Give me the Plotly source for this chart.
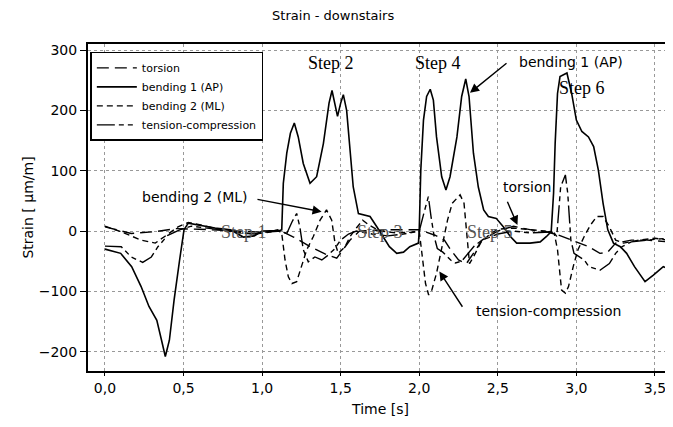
import plotly.graph_objects as go

# ---- data ----
t_bend1 = [0.00, 0.10, 0.17, 0.23, 0.28, 0.33, 0.36, 0.384, 0.41, 0.44, 0.475, 0.503, 0.53, 0.60, 0.70, 0.80,
           0.88, 0.95, 1.00, 1.11, 1.125, 1.135, 1.157, 1.18, 1.205, 1.23, 1.262, 1.305, 1.347, 1.39, 1.426,
           1.445, 1.464, 1.48, 1.50, 1.517, 1.538, 1.56, 1.58, 1.613, 1.644, 1.687, 1.73, 1.77, 1.81, 1.857,
           1.90, 1.94, 1.995, 2.00, 2.01, 2.027, 2.047, 2.07, 2.09, 2.11, 2.143, 2.17, 2.196, 2.24, 2.27,
           2.296, 2.317, 2.345, 2.376, 2.41, 2.44, 2.49, 2.535, 2.58, 2.62, 2.705, 2.77, 2.81, 2.84, 2.855,
           2.865, 2.88, 2.896, 2.94, 2.97, 3.00, 3.035, 3.077, 3.11, 3.14, 3.17, 3.20, 3.236, 3.28, 3.32,
           3.37, 3.437, 3.49, 3.553, 3.58]
v_bend1 = [-30, -37, -59, -92, -125, -148, -181, -208, -181, -114, -48, 2, 13, 10, 5, 2,
           -10, -8, 0, 1, 2, 79, 129, 162, 179, 156, 112, 79, 90, 145, 212,
           233, 212, 190, 212, 226, 200, 129, 73, 29, 27, 24, 7, -9, -26, -37,
           -35, -26, -20, 2, 101, 184, 223, 235, 217, 156, 90, 68, 90, 156, 223,
           252, 223, 129, 73, 35, 24, 21, 7, -9, -20, -20, -18, -9, -1, 63,
           145, 228, 256, 262, 228, 184, 165, 156, 140, 101, 46, 2, -20, -26, -37,
           -59, -84, -73, -59, -62]

t_bend2 = [0.00, 0.10, 0.23, 0.32, 0.38, 0.465, 0.53, 0.61, 0.74, 0.85, 0.95, 1.05, 1.10, 1.125, 1.146,
           1.167, 1.19, 1.22, 1.252, 1.284, 1.326, 1.369, 1.41, 1.443, 1.464, 1.485, 1.528, 1.56, 1.60,
           1.64, 1.68, 1.75, 1.85, 1.95, 2.00, 2.02, 2.04, 2.06, 2.08, 2.11, 2.15, 2.18, 2.21, 2.26, 2.285,
           2.30, 2.31, 2.32, 2.345, 2.39, 2.45, 2.50, 2.60, 2.70, 2.80, 2.86, 2.88, 2.895, 2.906, 2.93,
           2.95, 2.98, 3.01, 3.05, 3.09, 3.13, 3.17, 3.21, 3.25, 3.30, 3.40, 3.50, 3.58]
v_bend2 = [8, -1, -15, -20, -9, 7, 14, 10, 2, -3, -5, 0, 2, -4, -48,
           -76, -87, -84, -59, -31, -9, 18, 35, 18, -20, -37, -26, -9, 5,
           18, 10, 0, -3, -2, 0, -43, -87, -106, -98, -70, -20, 18, 46, 60, 46,
           7, -31, -54, -43, -20, -5, 3, 5, 2, 0, -5, -31, -70, -98, -103,
           -92, -59, -31, -9, 10, 24, 24, 7, -15, -20, -15, -12, -15]

t_tens = [0.00, 0.104, 0.167, 0.24, 0.295, 0.337, 0.40, 0.486, 0.55, 0.65, 0.80, 0.95, 1.10, 1.157, 1.19,
          1.22, 1.24, 1.262, 1.294, 1.336, 1.38, 1.42, 1.46, 1.50, 1.55, 1.60, 1.70, 1.80, 1.90, 2.00,
          2.03, 2.058, 2.075, 2.095, 2.115, 2.15, 2.20, 2.23, 2.27, 2.30, 2.35, 2.40, 2.50, 2.60, 2.70,
          2.80, 2.85, 2.875, 2.887, 2.90, 2.93, 2.945, 2.955, 2.965, 2.985, 3.05, 3.08, 3.15, 3.21, 3.25,
          3.29, 3.35, 3.45, 3.58]
v_tens = [-25, -26, -43, -52, -43, -26, -7, 3, 8, 5, 0, -5, 0, -4, 15,
          29, 7, -31, -51, -43, -48, -40, -30, -15, -5, 0, -5, -8, -5, 0,
          30, 57, 24, -9, -29, -35, -48, -53, -50, -40, -25, -15, -5, 0, -3,
          -2, 0, -9, 29, 73, 93, 63, 24, -15, -37, -48, -59, -65, -54, -37,
          -26, -18, -15, -12]

t_tors = [0.00, 0.167, 0.32, 0.45, 0.60, 0.80, 1.00, 1.12, 1.20, 1.30, 1.40, 1.475, 1.53, 1.56, 1.62,
          1.80, 2.00, 2.05, 2.10, 2.16, 2.20, 2.25, 2.30, 2.35, 2.40, 2.50, 2.60, 2.65, 2.75, 2.85,
          2.92, 3.00, 3.08, 3.15, 3.20, 3.25, 3.35, 3.45, 3.58]
v_tors = [7, -4, -1, 4, 3, 0, -2, 0, -10, -25, -38, -45, -25, -15, 0,
          2, 2, -2, -7, -15, -31, -48, -54, -35, -15, 0, 8, 5, 0, -3,
          -10, -18, -26, -37, -35, -20, -15, -15, -18]

x_tickvals = [0.0, 0.5, 1.0, 1.5, 2.0, 2.5, 3.0, 3.5]
x_ticktext = ["0,0", "0,5", "1,0", "1,5", "2,0", "2,5", "3,0", "3,5"]
y_tickvals = [300, 200, 100, 0, -100, -200]

series_names = ["torsion", "bending 1 (AP)", "bending 2 (ML)", "tension-compression"]

# ---- figure ----
fig = go.Figure()
fig.add_trace(go.Scatter(x=t_tors, y=v_tors, mode="lines", name=series_names[0],
                         line=dict(color="black", width=1.4, dash="12px,6px")))
fig.add_trace(go.Scatter(x=t_bend1, y=v_bend1, mode="lines", name=series_names[1],
                         line=dict(color="black", width=1.6)))
fig.add_trace(go.Scatter(x=t_bend2, y=v_bend2, mode="lines", name=series_names[2],
                         line=dict(color="black", width=1.4, dash="6px,4px")))
fig.add_trace(go.Scatter(x=t_tens, y=v_tens, mode="lines", name=series_names[3],
                         line=dict(color="black", width=1.4, dash="18px,4px,5px,4px,5px,4px")))

serif = dict(family="Liberation Serif", size=18, color="black")
serif_grey = dict(family="Liberation Serif", size=18, color="#555555")
sans = dict(family="DejaVu Sans", size=14, color="black")

step_labels = [("Step 2", 1.438, 278, serif), ("Step 4", 2.12, 278, serif), ("Step 6", 3.036, 237, serif),
               ("Step 1", 0.885, -2, serif_grey), ("Step 3", 1.75, -2, serif_grey), ("Step 5", 2.45, -2, serif_grey)]
for txt, xx, yy, f in step_labels:
    fig.add_annotation(x=xx, y=yy, text=txt, showarrow=False, font=f, xanchor="center", yanchor="middle")

text_labels = [("bending 2 (ML)", 0.573, 56), ("bending 1 (AP)", 2.966, 280),
               ("torsion", 2.686, 73), ("tension-compression", 2.82, -133)]
for txt, xx, yy in text_labels:
    fig.add_annotation(x=xx, y=yy, text=txt, showarrow=False, font=sans, xanchor="center", yanchor="middle")

arrows = [(1.379, 32, 0.961, 53), (2.323, 229, 2.565, 280), (2.625, 10, 2.557, 51), (2.128, -67, 2.281, -128)]
for xt, yt, xs, ys in arrows:
    fig.add_annotation(x=xt, y=yt, ax=xs, ay=ys, axref="x", ayref="y", xref="x", yref="y",
                       text="", showarrow=True, arrowhead=2, arrowsize=1.3, arrowwidth=1.4,
                       arrowcolor="black")

# the page body has an 8px margin, so the figure is sized to fit the window from (8, 8)
fig.update_layout(
    width=665, height=419,
    margin=dict(l=80, r=0, t=36, b=56, autoexpand=False),
    paper_bgcolor="white", plot_bgcolor="white",
    title=dict(text="Strain - downstairs", x=0.489, xanchor="center", y=0.983, yanchor="middle",
               font=dict(family="DejaVu Sans", size=13, color="black")),
    font=dict(family="DejaVu Sans", size=14, color="black"),
    legend=dict(x=0.004, y=0.976, xanchor="left", yanchor="top", bgcolor="white",
                bordercolor="black", borderwidth=1.5, font=dict(family="DejaVu Sans", size=11),
                tracegroupgap=0, itemwidth=40),
    showlegend=True,
)
fig.update_xaxes(range=[-0.108, 3.615], tickvals=x_tickvals, ticktext=x_ticktext, automargin=False,
                 showline=True, linecolor="black", linewidth=2, mirror=True,
                 ticks="outside", ticklen=3, tickcolor="black",
                 showgrid=True, gridcolor="#999999", griddash="dot", gridwidth=1, zeroline=False,
                 title=dict(text="Time [s]", font=dict(size=14), standoff=9),
                 tickfont=dict(size=14))
fig.update_yaxes(range=[-232, 310], tickvals=y_tickvals, automargin=False,
                 showline=True, linecolor="black", linewidth=2,
                 ticks="outside", ticklen=6, tickcolor="black",
                 showgrid=True, gridcolor="#999999", griddash="dot", gridwidth=1, zeroline=False,
                 title=dict(text="Strain [ µm/m]", font=dict(size=14), standoff=2),
                 tickfont=dict(size=14))

fig.write_html("out.html")
